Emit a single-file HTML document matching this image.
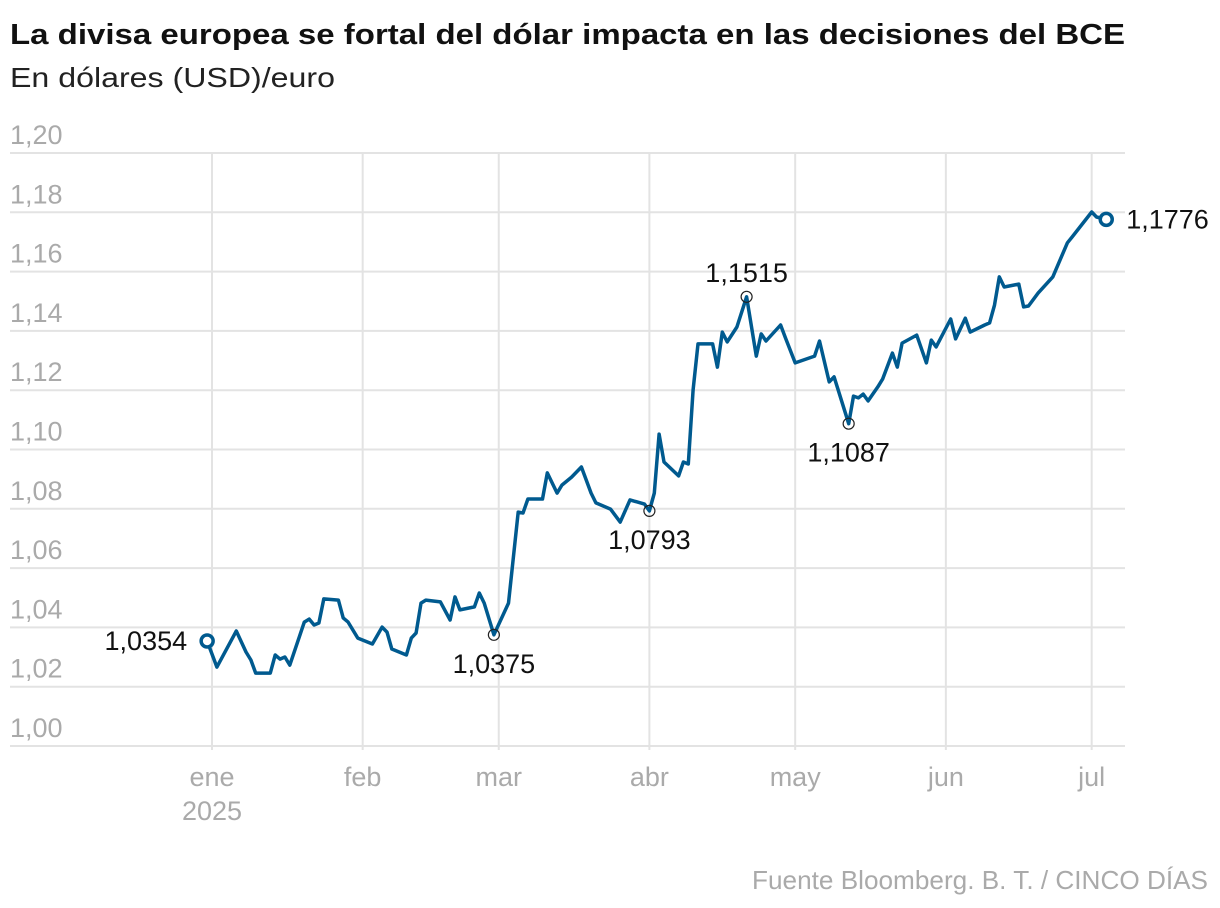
<!DOCTYPE html>
<html><head><meta charset="utf-8">
<style>
html,body{margin:0;padding:0;background:#fff;}
svg{display:block;}
text{font-family:"Liberation Sans",sans-serif;}
</style></head>
<body>
<svg id="chart" width="1220" height="908" viewBox="0 0 1220 908" xmlns="http://www.w3.org/2000/svg">
<text x="10" y="44" font-size="29" font-weight="bold" fill="#111" textLength="1115" lengthAdjust="spacingAndGlyphs">La divisa europea se fortal del dólar impacta en las decisiones del BCE</text>
<text x="10" y="87" font-size="28" fill="#222" textLength="325" lengthAdjust="spacingAndGlyphs">En dólares (USD)/euro</text>
<g id="grid"></g>
<g id="series"></g>
<g id="labels"></g>
<text x="1208" y="889" font-size="26" fill="#aaa" text-anchor="end" textLength="456" lengthAdjust="spacingAndGlyphs">Fuente Bloomberg. B. T. / CINCO DÍAS</text>
</svg>
<script>
// Data: day offset from 1 Jan 2025, and EUR/USD value
const days = [-1,1,5,7,8,9,12,13,14,15,16,19,20,21,22,23,26,27,28,30,33,35,36,37,40,41,42,43,44,47,49,50,51,54,55,56,58,61,63,64,65,68,69,71,72,74,76,78,79,82,84,86,89,90,91,92,93,96,97,98,99,100,103,104,105,106,108,110,112,113,114,117,118,120,124,125,127,128,131,132,133,134,135,137,138,140,141,142,145,147,148,149,152,153,155,156,159,160,161,162,163,166,167,168,170,173,176,177,181,182,184];
const values = [1.0354,1.0266,1.0388,1.0317,1.0290,1.0246,1.0246,1.0307,1.0293,1.0300,1.0273,1.0418,1.0428,1.0408,1.0415,1.0496,1.0492,1.0432,1.0418,1.0364,1.0344,1.0401,1.0384,1.0327,1.0307,1.0364,1.0381,1.0482,1.0492,1.0486,1.0425,1.0503,1.0459,1.0469,1.0516,1.0482,1.0375,1.0482,1.0789,1.0786,1.0833,1.0833,1.0921,1.0853,1.0880,1.0907,1.0941,1.0853,1.0820,1.0799,1.0755,1.0830,1.0816,1.0793,1.0853,1.1052,1.0958,1.0911,1.0958,1.0951,1.1201,1.1356,1.1356,1.1278,1.1396,1.1363,1.1413,1.1515,1.1315,1.1390,1.1366,1.1420,1.1376,1.1292,1.1315,1.1366,1.1228,1.1245,1.1087,1.1180,1.1174,1.1187,1.1164,1.1211,1.1238,1.1325,1.1278,1.1359,1.1386,1.1292,1.1369,1.1346,1.1440,1.1373,1.1443,1.1396,1.1420,1.1427,1.1487,1.1582,1.1548,1.1558,1.1481,1.1484,1.1528,1.1582,1.1697,1.1717,1.1801,1.1784,1.1776];
const yTicks = [1.00,1.02,1.04,1.06,1.08,1.10,1.12,1.14,1.16,1.18,1.20];
const monthNames = ["ene","feb","mar","abr","may","jun","jul"];
const monthDays = [0,31,59,90,120,151,181];
const annotDays = [58,90,110,131];
const annotValues = [1.0375,1.0793,1.1515,1.1087];
const annotPos = ["below","below","above","below"];

const NS="http://www.w3.org/2000/svg";
function x(d){return 212 + d*4.86;}
function y(v){return 746 - (v-1.0)*2965;}
function fmt(v,n){return v.toFixed(n).replace('.',',');}
function mk(tag,attrs,parent){const e=document.createElementNS(NS,tag);for(const k in attrs)e.setAttribute(k,attrs[k]);parent.appendChild(e);return e;}

const grid=document.getElementById('grid');
yTicks.forEach(t=>{
  const l=mk('line',{x1:10,x2:1125,y1:y(t),y2:y(t),stroke:'#e3e3e3','stroke-width':2},grid);
  
  
  const tx=mk('text',{x:10,y:y(t)-9,'font-size':27,fill:'#aaa'},grid);
  tx.textContent=fmt(t,2);
  
  
});
monthDays.forEach((d,i)=>{
  const l=mk('line',{x1:x(d),x2:x(d),y1:y(1.20),y2:y(1.0)+4,stroke:'#e3e3e3','stroke-width':2},grid);
  
  
  const tx=mk('text',{x:x(d),y:786,'font-size':27,fill:'#aaa','text-anchor':'middle'},grid);
  tx.textContent=monthNames[i];
  
  
});
const yr=mk('text',{x:x(0),y:820,'font-size':27,fill:'#aaa','text-anchor':'middle'},grid);
yr.textContent='2025';



const series=document.getElementById('series');
const pts=days.map((d,i)=>x(d).toFixed(1)+','+y(values[i]).toFixed(1)).join(' ');
const line=mk('polyline',{points:pts,fill:'none',stroke:'#005a8f','stroke-width':3.5,'stroke-linejoin':'round','stroke-linecap':'round'},series);



const labels=document.getElementById('labels');
const n=days.length-1;
const c1=mk('circle',{cx:x(days[0]),cy:y(values[0]),r:6,fill:'#fff',stroke:'#005a8f','stroke-width':3.5},labels);


const t1=mk('text',{x:x(days[0])-20,y:y(values[0])+9,'font-size':27,fill:'#111','text-anchor':'end'},labels);
t1.textContent=fmt(values[0],4);


const c2=mk('circle',{cx:x(days[n]),cy:y(values[n]),r:6,fill:'#fff',stroke:'#005a8f','stroke-width':3.5},labels);


const t2=mk('text',{x:x(days[n])+20,y:y(values[n])+9,'font-size':27,fill:'#111'},labels);
t2.textContent=fmt(values[n],4);


annotDays.forEach((d,i)=>{
  const cx=x(d),cy=y(annotValues[i]);
  const c=mk('circle',{cx:cx,cy:cy,r:5.5,fill:'none',stroke:'#222','stroke-width':1.2},labels);
  
  
  const t=mk('text',{x:cx,y:annotPos[i]==='above'?cy-15:cy+38,'font-size':27,fill:'#111','text-anchor':'middle'},labels);
  t.textContent=fmt(annotValues[i],4);
  
  
});
</script>
</body></html>
